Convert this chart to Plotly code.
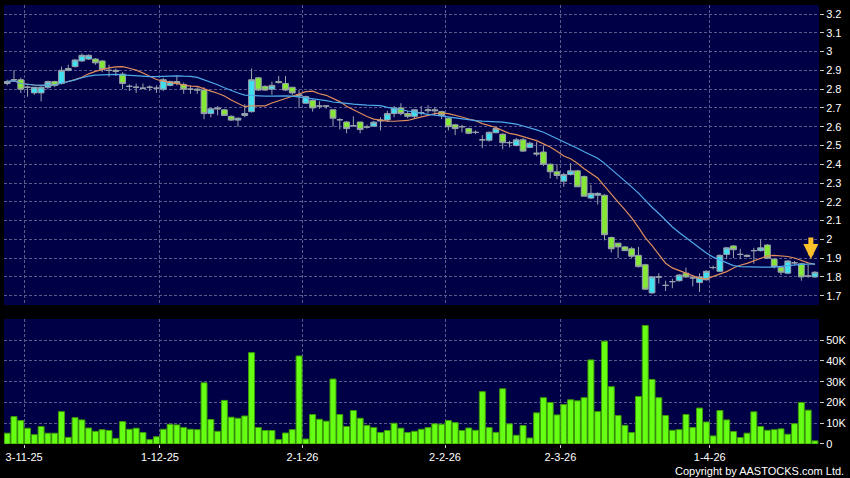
import pandas as pd
import plotly.graph_objects as go

# trading days (HK), Oct 30 2025 onward
holidays = ["2025-12-25", "2025-12-26", "2026-01-01", "2026-02-17", "2026-02-18",
            "2026-02-19", "2026-04-03", "2026-04-06", "2026-04-07"]
days = [d for d in pd.bdate_range("2025-10-30", "2026-05-29") if d.strftime("%Y-%m-%d") not in holidays]

opens = [2.83, 2.85, 2.85, 2.81, 2.78, 2.78, 2.81, 2.84, 2.83, 2.90,
         2.92, 2.95, 2.96, 2.96, 2.95, 2.90, 2.90, 2.88, 2.815, 2.81,
         2.805, 2.81, 2.805, 2.80, 2.82, 2.84, 2.825, 2.80, 2.80, 2.795,
         2.67, 2.70, 2.69, 2.655, 2.635, 2.66, 2.68, 2.86, 2.815, 2.80,
         2.84, 2.83, 2.81, 2.77, 2.725, 2.74, 2.71, 2.71, 2.69, 2.637,
         2.625, 2.605, 2.625, 2.598, 2.603, 2.63, 2.636, 2.67, 2.70, 2.67,
         2.655, 2.675, 2.685, 2.69, 2.68, 2.645, 2.61, 2.60, 2.59, 2.57,
         2.53, 2.528, 2.568, 2.56, 2.515, 2.50, 2.53, 2.49, 2.46, 2.465,
         2.40, 2.36, 2.31, 2.345, 2.365, 2.335, 2.22, 2.235, 2.235, 2.01,
         1.98, 1.96, 1.95, 1.915, 1.865, 1.715, 1.80, 1.755, 1.775, 1.78,
         1.82, 1.795, 1.77, 1.785, 1.85, 1.83, 1.92, 1.965, 1.92, 1.915,
         1.94, 1.94, 1.97, 1.895, 1.85, 1.82, 1.875, 1.87, 1.805, 1.80]
highs = [2.85, 2.90, 2.86, 2.82, 2.81, 2.815, 2.845, 2.845, 2.92, 2.93,
         2.96, 2.99, 2.985, 2.965, 2.955, 2.93, 2.91, 2.89, 2.825, 2.83,
         2.83, 2.82, 2.82, 2.86, 2.845, 2.87, 2.835, 2.82, 2.81, 2.81,
         2.70, 2.71, 2.695, 2.66, 2.65, 2.72, 2.91, 2.865, 2.82, 2.84,
         2.87, 2.87, 2.81, 2.795, 2.765, 2.745, 2.735, 2.715, 2.695, 2.645,
         2.63, 2.655, 2.625, 2.61, 2.63, 2.65, 2.685, 2.71, 2.725, 2.685,
         2.69, 2.71, 2.715, 2.705, 2.685, 2.65, 2.615, 2.61, 2.595, 2.58,
         2.555, 2.575, 2.60, 2.565, 2.525, 2.54, 2.54, 2.52, 2.52, 2.50,
         2.405, 2.40, 2.355, 2.405, 2.37, 2.34, 2.29, 2.25, 2.24, 2.015,
         1.98, 1.965, 1.96, 1.96, 1.87, 1.805, 1.82, 1.78, 1.79, 1.815,
         1.85, 1.81, 1.82, 1.835, 1.86, 1.92, 1.96, 1.97, 1.95, 1.92,
         1.955, 2.00, 1.975, 1.90, 1.855, 1.89, 1.885, 1.875, 1.865, 1.83]
lows = [2.82, 2.84, 2.78, 2.76, 2.77, 2.735, 2.80, 2.81, 2.825, 2.895,
        2.915, 2.945, 2.955, 2.93, 2.89, 2.865, 2.87, 2.80, 2.79, 2.78,
        2.80, 2.79, 2.78, 2.79, 2.815, 2.82, 2.775, 2.775, 2.775, 2.64,
        2.65, 2.66, 2.66, 2.63, 2.60, 2.65, 2.675, 2.79, 2.79, 2.77,
        2.83, 2.79, 2.77, 2.70, 2.72, 2.68, 2.695, 2.695, 2.60, 2.585,
        2.565, 2.60, 2.565, 2.59, 2.60, 2.58, 2.625, 2.65, 2.66, 2.645,
        2.645, 2.66, 2.67, 2.66, 2.64, 2.58, 2.555, 2.57, 2.56, 2.56,
        2.485, 2.52, 2.565, 2.48, 2.49, 2.495, 2.465, 2.485, 2.443, 2.39,
        2.325, 2.32, 2.28, 2.34, 2.28, 2.23, 2.215, 2.185, 1.995, 1.93,
        1.90, 1.94, 1.90, 1.85, 1.73, 1.71, 1.765, 1.725, 1.74, 1.775,
        1.795, 1.75, 1.72, 1.78, 1.84, 1.825, 1.895, 1.90, 1.895, 1.905,
        1.87, 1.935, 1.895, 1.845, 1.81, 1.815, 1.865, 1.78, 1.795, 1.795]
closes = [2.84, 2.85, 2.80, 2.81, 2.81, 2.81, 2.84, 2.82, 2.90, 2.91,
          2.955, 2.98, 2.98, 2.94, 2.905, 2.90, 2.895, 2.83, 2.815, 2.81,
          2.805, 2.81, 2.805, 2.85, 2.84, 2.83, 2.80, 2.80, 2.795, 2.67,
          2.695, 2.695, 2.66, 2.635, 2.645, 2.67, 2.85, 2.795, 2.795, 2.82,
          2.835, 2.795, 2.78, 2.765, 2.76, 2.70, 2.71, 2.71, 2.645, 2.637,
          2.59, 2.605, 2.585, 2.598, 2.624, 2.635, 2.67, 2.70, 2.67, 2.655,
          2.69, 2.675, 2.69, 2.685, 2.66, 2.60, 2.59, 2.60, 2.565, 2.57,
          2.53, 2.57, 2.59, 2.515, 2.515, 2.53, 2.47, 2.512, 2.455, 2.40,
          2.36, 2.34, 2.345, 2.365, 2.28, 2.23, 2.245, 2.245, 2.025, 1.95,
          1.96, 1.94, 1.91, 1.855, 1.735, 1.80, 1.80, 1.755, 1.775, 1.81,
          1.80, 1.795, 1.80, 1.83, 1.85, 1.915, 1.955, 1.945, 1.92, 1.91,
          1.94, 1.955, 1.90, 1.855, 1.825, 1.885, 1.875, 1.80, 1.805, 1.825]
volumes = [5.2, 13.2, 11.3, 7.6, 4.5, 8.4, 5.2, 5.2, 15.6, 3.2,
           12.7, 11.6, 7.7, 6.1, 6.9, 6.5, 2.7, 10.8, 7.1, 7.6,
           5.5, 2.1, 3.5, 7.1, 9.5, 9.2, 7.9, 7.1, 6.9, 29.5,
           11.8, 6.1, 21.0, 12.9, 12.4, 13.5, 44.0, 7.9, 6.5, 6.5,
           2.1, 5.3, 6.9, 42.4, 2.4, 14.2, 11.9, 11.0, 31.3, 14.2,
           8.4, 16.1, 12.4, 9.0, 7.9, 5.5, 6.5, 10.0, 7.6, 5.5,
           6.1, 7.1, 7.9, 9.7, 9.5, 11.3, 10.3, 6.5, 7.7, 6.6,
           25.2, 7.9, 5.6, 26.6, 9.7, 4.2, 8.9, 2.9, 15.0, 22.3,
           20.0, 14.0, 19.0, 21.3, 20.8, 22.3, 40.5, 15.6, 49.5, 27.6,
           13.7, 9.0, 5.5, 22.9, 57.1, 31.1, 22.3, 13.7, 6.6, 6.9,
           14.2, 7.9, 17.3, 10.6, 3.9, 16.1, 11.6, 6.0, 3.1, 5.2,
           15.5, 8.4, 6.6, 6.9, 7.3, 4.7, 9.8, 20.0, 16.3, 1.5]  # thousands

tick_dates = ["2025-11-03", "2025-12-01", "2026-01-02", "2026-02-02", "2026-03-02", "2026-04-01"]
vol_ticks = [0, 10000, 20000, 30000, 40000, 50000]
vol_labels = ["0", "10K", "20K", "30K", "40K", "50K"]

n = len(closes)
days = days[:n]
idx = list(range(n))
day_keys = [d.strftime("%Y-%m-%d") for d in days]
tick_pos = [day_keys.index(t) + 0.5 for t in tick_dates]
tick_txt = [f"{pd.Timestamp(t).day}-{pd.Timestamp(t).month}-{pd.Timestamp(t).strftime('%y')}" for t in tick_dates]

ma10 = pd.Series(closes).rolling(10, min_periods=1).mean()
ma20 = pd.Series(closes).rolling(20, min_periods=1).mean()

NAVY = "#000046"
GRID = "#5a5a8c"
FONT = dict(family="Liberation Sans, Arial, sans-serif", size=11, color="#ffffff")

fig = go.Figure()
fig.add_trace(go.Candlestick(
    x=idx, open=opens, high=highs, low=lows, close=closes,
    increasing=dict(fillcolor="#3ee0f2", line=dict(color="#9aa2ac", width=1)),
    decreasing=dict(fillcolor="#84e834", line=dict(color="#9aa2ac", width=1)),
    whiskerwidth=0, xaxis="x", yaxis="y", showlegend=False))
fig.add_trace(go.Scatter(x=idx, y=ma10, mode="lines", line=dict(color="#de8d5c", width=1.2),
                         xaxis="x", yaxis="y", showlegend=False))
fig.add_trace(go.Scatter(x=idx, y=ma20, mode="lines", line=dict(color="#4eaaea", width=1.2),
                         xaxis="x", yaxis="y", showlegend=False))
fig.add_trace(go.Bar(x=idx, y=[v * 1000 for v in volumes],
                     marker=dict(color="#66ff14", line=dict(color="#3d9a08", width=1)),
                     xaxis="x2", yaxis="y2", showlegend=False))

xcommon = dict(range=[-0.47, 119.6], tickvals=tick_pos, showgrid=True, gridcolor=GRID,
               griddash="3px,2px", gridwidth=1, zeroline=False, showline=False)
fig.update_layout(
    width=850, height=478,
    margin=dict(l=4, r=31, t=5, b=34),
    paper_bgcolor="#000000", plot_bgcolor=NAVY,
    font=FONT, boxgap=0.15, boxgroupgap=0, bargap=0.12,
    xaxis=dict(**xcommon, domain=[0, 1], anchor="y", showticklabels=False, ticks="",
               rangeslider=dict(visible=False)),
    xaxis2=dict(**xcommon, domain=[0, 1], anchor="y2", matches="x", ticktext=tick_txt,
                ticks="outside", ticklen=3, tickcolor="#cccccc"),
    yaxis=dict(domain=[0.3166, 1.0], range=[1.6505, 3.248], side="right", tick0=1.7, dtick=0.1,
               ticks="outside", ticklen=4, tickcolor="#cccccc", showgrid=True, gridcolor=GRID,
               griddash="3px,2px", zeroline=False),
    yaxis2=dict(domain=[0, 0.2847], range=[0, 60200], side="right", tickvals=vol_ticks,
                ticktext=vol_labels, ticks="outside", ticklen=4, tickcolor="#cccccc",
                showgrid=True, gridcolor=GRID, griddash="3px,2px", zeroline=False),
)

# marker arrow on latest bar
fig.add_annotation(x=118.4, y=1.895, xref="x", yref="y", text="", showarrow=True,
                   ax=0, ay=-23, arrowcolor="#fcc02a", arrowwidth=5, arrowhead=2, arrowsize=0.6)
fig.add_annotation(text="Copyright by AASTOCKS.com Ltd.", xref="paper", yref="paper",
                   x=1.033, y=-0.0615, xanchor="right", yanchor="middle", showarrow=False,
                   font=dict(family="Liberation Sans, Arial, sans-serif", size=11, color="#ffffff"))

fig.write_html("out.html", config={"displayModeBar": False},
               post_script="document.body.style.margin='0';")
